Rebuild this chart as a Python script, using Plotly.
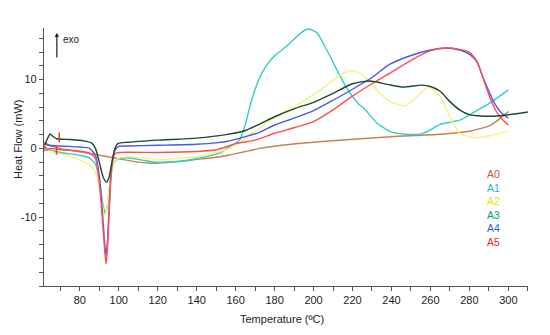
import plotly.graph_objects as go

# ---- data ----
A0_T = [62, 70, 80, 90, 100, 110, 117, 125, 131, 140, 147, 157, 165, 172.5, 185, 200, 219, 240, 265, 280, 286, 291, 296, 300]
A0_V = [0.6, 0.0, -0.5, -1.0, -1.5, -2.0, -2.15, -2.05, -1.9, -1.6, -1.4, -0.95, -0.45, 0.0, 0.5, 0.9, 1.3, 1.7, 2.05, 2.5, 2.9, 3.4, 4.4, 5.35]

A1_T = [62, 65, 70, 80, 85, 88, 90, 91.5, 93, 94, 95.5, 97, 99, 102, 106, 112, 119, 130, 140, 148.5, 153, 157, 162, 165, 167.5, 170, 172.5, 175, 177.6, 181, 186, 194, 197.4, 201.7, 206.8, 212, 217, 223, 226, 232.5, 239.4, 246, 255, 260, 265, 270, 275, 282, 290, 300]
A1_V = [0.2, -0.2, -0.6, -1.0, -1.4, -2.3, -4.5, -7.5, -9.5, -8.5, -5.0, -2.5, -1.6, -1.4, -1.4, -1.7, -2.0, -1.9, -1.5, -0.95, -0.5, 0.3, 1.2, 3.5, 6.3, 8.6, 10.4, 11.7, 12.7, 13.7, 14.8, 16.9, 17.35, 16.8, 14.3, 11.4, 8.8, 6.5, 5.8, 3.7, 2.45, 2.1, 2.1, 2.7, 3.5, 3.8, 4.1, 5.2, 6.5, 8.5]

A2_T = [62, 65, 70, 80, 85, 88, 90, 91.5, 92.5, 93.5, 95, 96.5, 98, 100, 105, 121, 140, 152, 157, 162, 167, 172.5, 177.6, 191.4, 205, 213.7, 219.7, 224, 228, 232.5, 239.4, 247, 253, 259, 265, 270, 275, 282, 290, 300]
A2_V = [0.0, -0.5, -0.8, -1.7, -2.4, -3.5, -5.5, -8.0, -9.8, -9.3, -6.0, -3.0, -1.8, -1.4, -1.2, -1.6, -1.2, -0.45, 0.0, 0.75, 2.0, 2.9, 4.1, 6.3, 8.8, 10.7, 11.3, 10.9, 10.0, 8.5, 6.8, 6.2, 7.5, 8.9, 7.5, 4.6, 2.2, 1.6, 1.8, 2.55]

A3_T = [62, 63.5, 64.7, 66, 68, 75, 82, 86, 88, 90, 92, 93.7, 95, 96.5, 98, 99.5, 105, 120, 140, 155, 165, 172, 180, 191, 200, 210, 220, 229, 238, 246, 255.7, 260, 265, 270, 275, 280, 286, 296, 310]
A3_V = [0.5, 1.5, 2.1, 1.8, 1.4, 1.3, 1.1, 0.8, 0.0, -2.0, -4.2, -4.9, -4.2, -2.0, 0.0, 0.7, 0.9, 1.2, 1.5, 2.0, 2.6, 3.5, 4.6, 5.85, 6.7, 8.0, 9.4, 9.8, 9.3, 8.9, 9.2, 9.0, 8.3, 6.8, 5.6, 4.9, 4.7, 4.75, 5.3]

A4_T = [62, 64, 70, 80, 85, 88, 90, 91.5, 92.8, 93.5, 94.3, 95.5, 96.5, 98, 100, 105, 120, 140, 150, 157, 165, 172, 180, 190, 200, 210, 220, 230, 239, 250, 260, 268, 275, 280.5, 284, 287, 290, 293, 296, 300]
A4_V = [0.8, 0.5, 0.35, 0.2, 0.0, -1.0, -4.0, -9.0, -14.0, -15.6, -13.0, -6.0, -2.0, -0.3, 0.3, 0.35, 0.45, 0.6, 0.8, 1.1, 1.7, 2.3, 3.4, 4.4, 5.5, 7.0, 8.6, 10.3, 12.2, 13.5, 14.3, 14.6, 14.3, 13.6, 12.5, 10.3, 8.3, 6.5, 5.3, 4.4]

A5_T = [62, 63, 65, 70, 80, 85, 88, 90, 91.5, 92.8, 93.5, 94.3, 95.5, 96.5, 98, 100, 120, 140, 150, 155, 160, 170, 180, 190, 200, 210, 220, 230, 239, 250, 260, 268, 275, 280, 284, 287, 290, 293, 296, 300]
A5_V = [0.3, -0.3, 0.0, -0.2, -0.4, -0.7, -1.5, -5.0, -10.0, -15.0, -16.8, -14.0, -6.5, -2.5, -0.8, -0.6, -0.6, -0.45, -0.2, 0.2, 0.7, 1.2, 2.2, 3.0, 3.9, 5.6, 7.6, 9.4, 10.9, 12.8, 14.2, 14.6, 14.4, 14.0, 12.6, 10.2, 7.8, 5.8, 4.5, 3.4]

MARK_T = [61.6, 68.0, 69.4]
MARK_V = [0.26, -0.2, 1.6]

NAMES = ["A0", "A1", "A2", "A3", "A4", "A5"]
LINE_COLORS = ["#c8804e", "#35cdc8", "#f4f47a", "#1d4a2c", "#4a55f5", "#ff4d4d"]
LABEL_COLORS = ["#c0602a", "#19b8dc", "#eee000", "#00a862", "#1a5ee6", "#ff2020"]

Y_TICKS = [-10, 0, 10]
Y_TICK_TEXT = ["-10", "0", "10"]
X_TICKS = [80, 100, 120, 140, 160, 180, 200, 220, 240, 260, 280, 300]

series = [(A0_T, A0_V), (A1_T, A1_V), (A2_T, A2_V), (A3_T, A3_V), (A4_T, A4_V), (A5_T, A5_V)]
draw_order = [0, 1, 2, 4, 5, 3]

fig = go.Figure()
for i in draw_order:
    t, v = series[i]
    fig.add_trace(go.Scatter(x=t, y=v, mode="lines", name=NAMES[i],
                             line=dict(color=LINE_COLORS[i], width=1.4, shape="spline", smoothing=0.6),
                             showlegend=False))

fig.add_trace(go.Scatter(x=MARK_T, y=MARK_V, mode="markers",
                         marker=dict(symbol="line-ns", size=7, line=dict(color="#ff3030", width=1.5)),
                         showlegend=False))

# legend as one block of coloured labels
legend_text = "<br>".join(f"<span style='color:{c}'>{n}</span>" for n, c in zip(NAMES, LABEL_COLORS))
fig.add_annotation(x=(493 - 44) / 484, y=(286 - 208.8) / 258, xref="paper", yref="paper",
                   xanchor="center", yanchor="middle", align="center",
                   text=legend_text, showarrow=False, font=dict(size=10.4))

# exo arrow
fig.add_annotation(x=68.2, y=16.8, ax=68.2, ay=13.0, xref="x", yref="y", axref="x", ayref="y",
                   text="", showarrow=True, arrowhead=2, arrowsize=0.7, arrowwidth=1.2, arrowcolor="#222")
fig.add_annotation(x=70.5, y=15.9, xref="x", yref="y", text="exo", showarrow=False,
                   xanchor="left", yanchor="middle", font=dict(size=10, color="#222"))

# axis titles
fig.add_annotation(x=(18 - 44) / 484, y=(286 - 140) / 258, xref="paper", yref="paper",
                   xanchor="center", yanchor="middle",
                   text="Heat Flow (mW)", textangle=-90, showarrow=False,
                   font=dict(size=11, color="#222"))
fig.add_annotation(x=(282 - 44) / 484, y=(286 - 319) / 258, xref="paper", yref="paper",
                   xanchor="center", yanchor="middle",
                   text="Temperature (ºC)", showarrow=False, font=dict(size=11, color="#222"))

axis_common = dict(showgrid=False, zeroline=False, showline=True, linecolor="#555", linewidth=1.3,
                   ticks="outside", ticklen=4, tickcolor="#555", tickfont=dict(size=11, color="#222"),
                   automargin=False)

fig.update_xaxes(range=[61.6, 310.1], tickvals=X_TICKS,
                 minor=dict(dtick=10, tick0=0, ticks="outside", ticklen=4, tickcolor="#555"),
                 **axis_common)
fig.update_yaxes(range=[-20, 17.5], tickvals=Y_TICKS, ticktext=Y_TICK_TEXT,
                 minor=dict(dtick=2, tick0=0, ticks="outside", ticklen=4, tickcolor="#555"),
                 **axis_common)

fig.update_layout(width=550, height=335, margin=dict(l=44, r=22, t=28, b=49),
                  paper_bgcolor="white", plot_bgcolor="white",
                  font=dict(family="Liberation Sans, Arial, sans-serif"))

fig.write_html("out.html", config={"displayModeBar": False},
               post_script="document.body.style.margin='0';")
